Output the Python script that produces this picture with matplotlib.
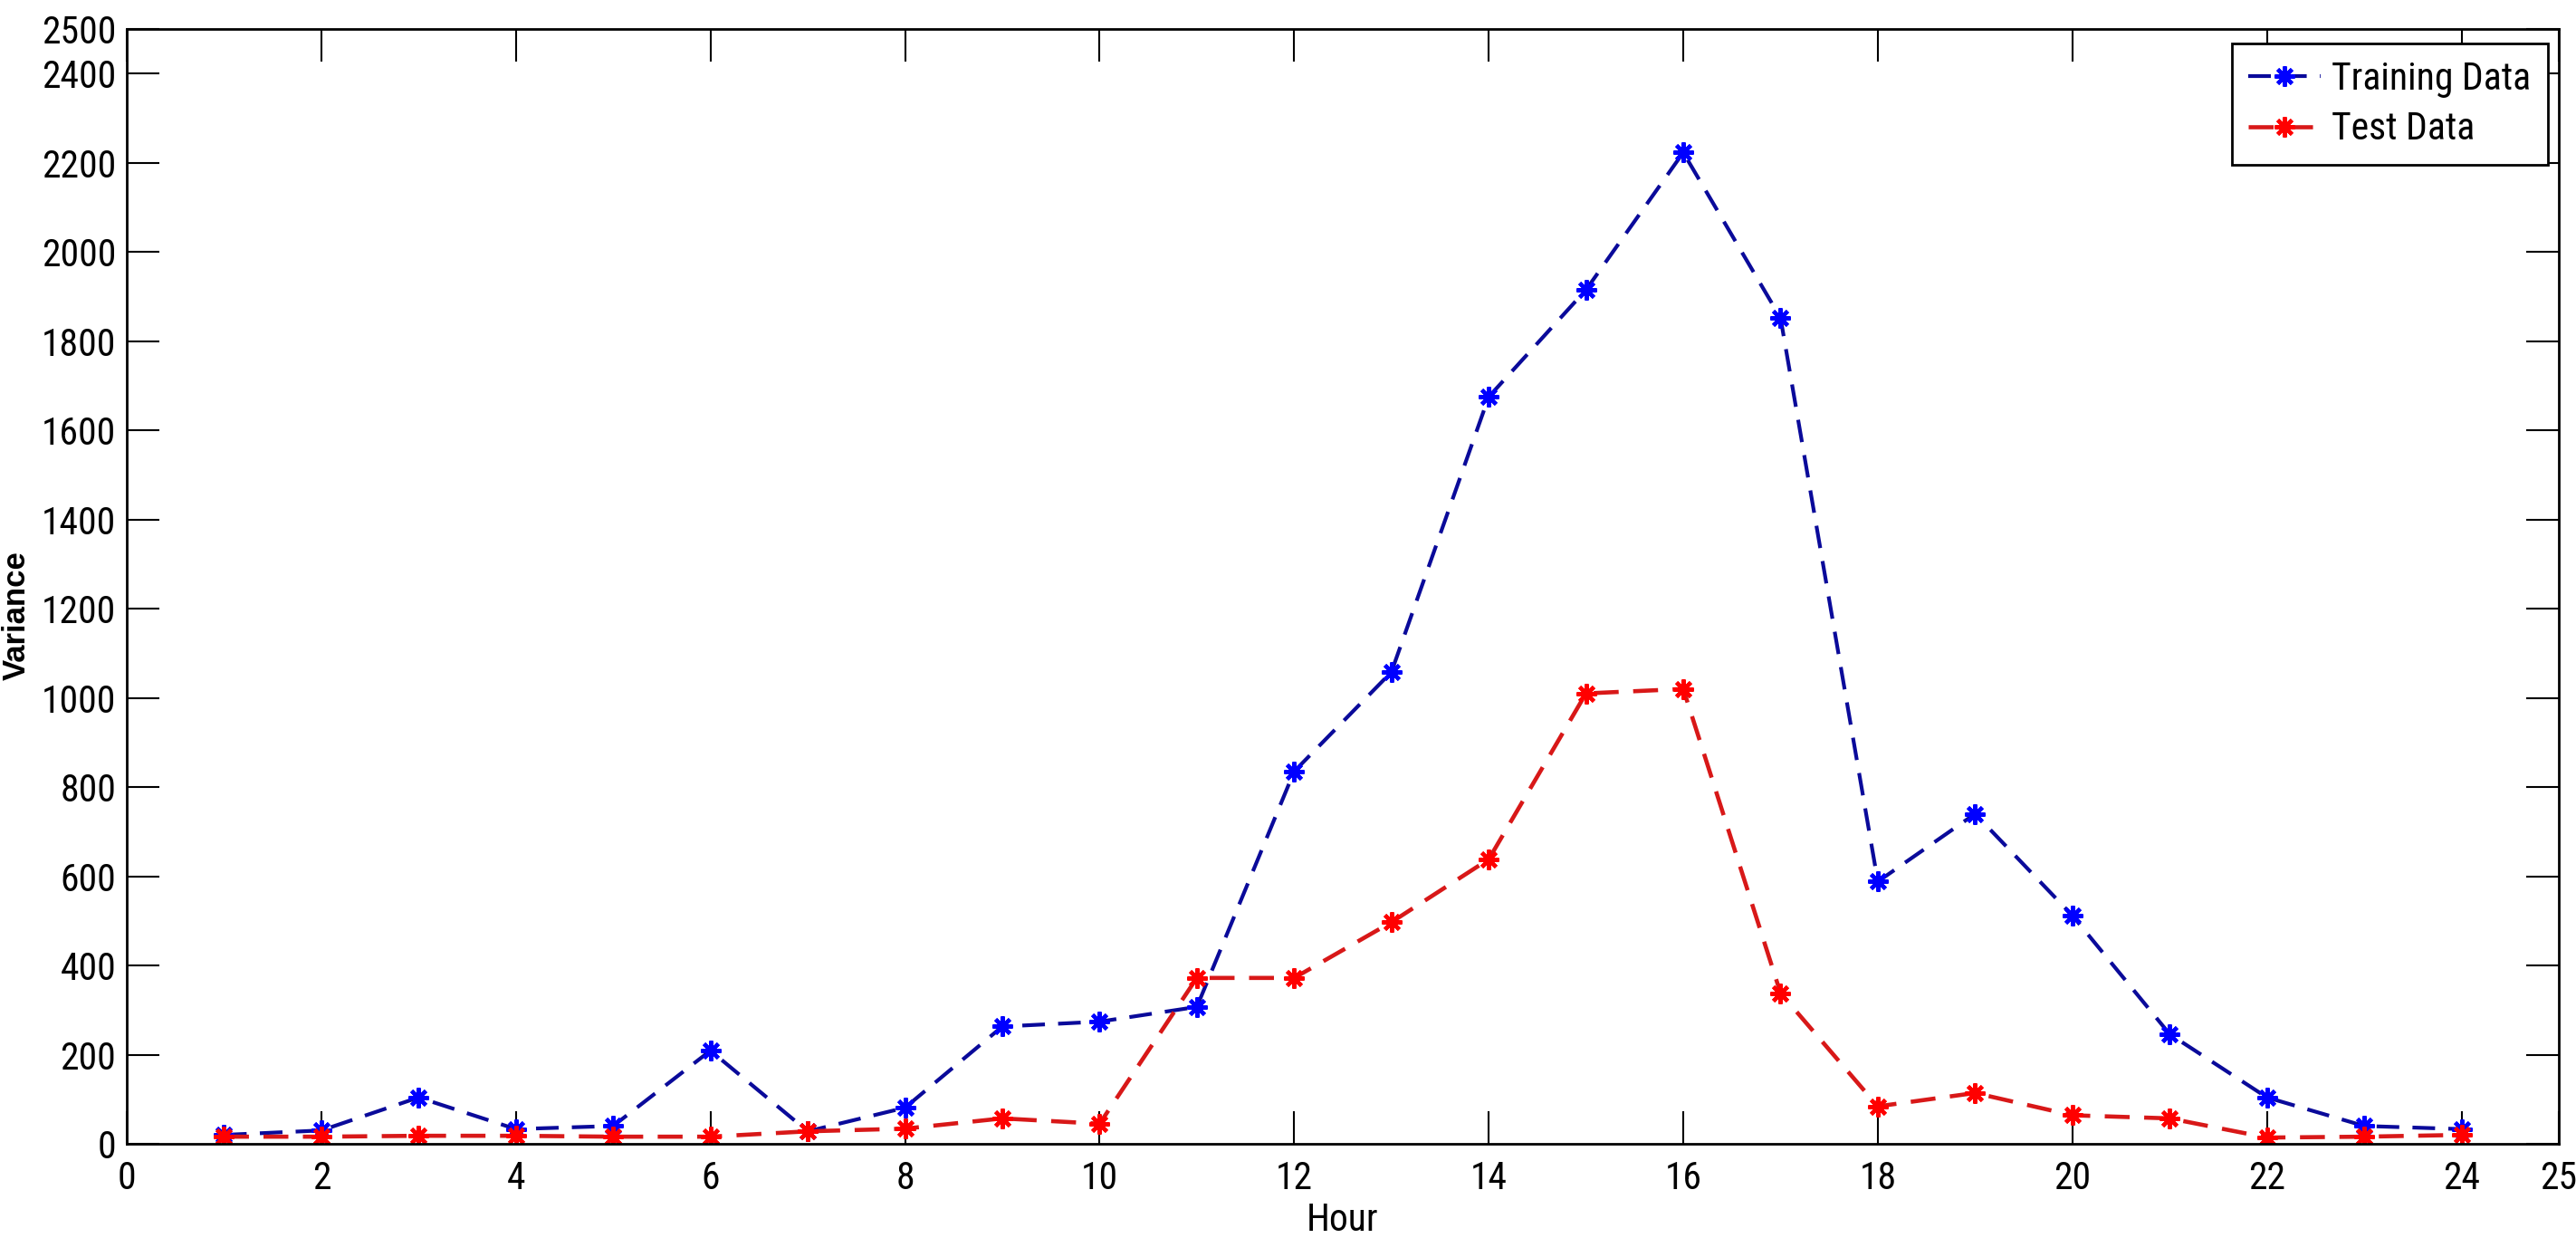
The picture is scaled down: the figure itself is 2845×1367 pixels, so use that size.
import matplotlib
matplotlib.use("Agg")
import matplotlib.pyplot as plt
from matplotlib import font_manager

hours = list(range(1, 25))
training = [20, 30, 104, 33, 40, 209, 28, 81, 263, 274, 307, 835,
            1058, 1675, 1915, 2223, 1852, 588, 740, 512, 246, 104, 40, 33]
test = [16, 16, 18, 18, 16, 16, 28, 34, 57, 45, 372, 372,
        497, 638, 1010, 1020, 338, 84, 114, 64, 57, 14, 16, 20]
xticks = [0, 2, 4, 6, 8, 10, 12, 14, 16, 18, 20, 22, 24, 25]
yticks = [0, 200, 400, 600, 800, 1000, 1200, 1400, 1600, 1800, 2000, 2200, 2400, 2500]


def _w(f):
    w = f.weight
    if isinstance(w, str):
        w = font_manager.weight_dict.get(w, 400)
    return int(w)


# pick a condensed sans font (regular weight) if one is installed
preferred = ['Liberation Sans Narrow', 'Arial Narrow', 'Roboto Condensed',
             'Open Sans Condensed', 'DejaVu Sans Condensed', 'Noto Sans Condensed']
cands = [f for f in font_manager.fontManager.ttflist
         if ('Narrow' in f.name or 'Condensed' in f.name)
         and 'Mono' not in f.name and 'Serif' not in f.name
         and f.style == 'normal']
best = None
for pname in preferred + [None]:
    pool = [f for f in cands if (pname is None or f.name == pname)]
    pool = [f for f in pool if 380 <= _w(f) <= 520]
    if pool:
        pool.sort(key=lambda f: abs(_w(f) - 450))
        best = pool[0]
        break

if best is not None:
    cond_fp = font_manager.FontProperties(fname=best.fname)
    fs = 30
else:
    cond_fp = font_manager.FontProperties(family=['Liberation Sans', 'DejaVu Sans'])
    fs = 26
plt.rcParams['font.family'] = ['Liberation Sans', 'DejaVu Sans']

fig = plt.figure(figsize=(28.45, 13.67), dpi=100)
ax = fig.add_axes([140/2845, 1 - 1263/1367, (2826-140)/2845, (1263-32)/1367])

star = (8, 2, 0)
ax.plot(hours, training, linestyle='--', dashes=(6, 3.5), color='#0a0a9a', lw=3.0,
        marker=star, markersize=16, markerfacecolor='#0000ff', markeredgecolor='#0000ff',
        markeredgewidth=3, label='Training Data')
ax.plot(hours, test, linestyle='--', dashes=(6, 3.5), color='#d81818', lw=3.3,
        marker=star, markersize=16, markerfacecolor='#ff0000', markeredgecolor='#ff0000',
        markeredgewidth=3, label='Test Data')

ax.set_xlim(0, 25)
ax.set_ylim(0, 2500)
ax.set_xticks(xticks)
ax.set_yticks(yticks)
ax.tick_params(direction='in', length=26, width=1.5, top=True, right=True, pad=8.5)
ax.tick_params(axis='x', pad=13)
for lab in ax.get_xticklabels() + ax.get_yticklabels():
    lab.set_fontproperties(cond_fp)
    lab.set_fontsize(fs)
for s in ax.spines.values():
    s.set_linewidth(2)

ax.set_xlabel('Hour', fontproperties=cond_fp, fontsize=fs)
ax.xaxis.set_label_coords(0.5, -0.052)
ax.set_ylabel('Variance', fontsize=25, fontweight='bold')
ax.yaxis.set_label_coords(-0.039, 0.474)

leg_fp = cond_fp.copy()
leg_fp.set_size(fs)
leg = ax.legend(loc='upper right', prop=leg_fp, handlelength=1.9, handletextpad=0.3,
                borderpad=0.45, labelspacing=0.35, fancybox=False, framealpha=1,
                edgecolor='black', bbox_to_anchor=(0.9955, 0.987), borderaxespad=0)
leg.get_frame().set_linewidth(2)

fig.savefig('out.png', dpi=100, facecolor='white')
